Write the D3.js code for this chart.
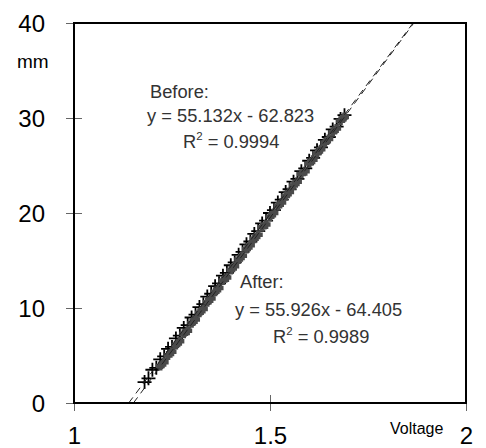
<!DOCTYPE html>
<html>
<head>
<meta charset="utf-8">
<script src="https://cdn.jsdelivr.net/npm/d3@7"></script>
<style>
  body { margin: 0; background: #fff; }
  svg { font-family: "Liberation Sans", Arial, sans-serif; }
</style>
</head>
<body>
<svg id="chart" width="486" height="448"></svg>
<script>
// data
const beforeVoltage = [1.18, 1.19, 1.20, 1.21, 1.22, 1.23, 1.24, 1.25, 1.26, 1.27, 1.28, 1.29, 1.30, 1.31, 1.32, 1.33, 1.34,
  1.35, 1.36, 1.37, 1.38, 1.39, 1.40, 1.41, 1.42, 1.43, 1.44, 1.45, 1.46, 1.47, 1.48, 1.49, 1.50, 1.51, 1.52,
  1.53, 1.54, 1.55, 1.56, 1.57, 1.58, 1.59, 1.60, 1.61, 1.62, 1.63, 1.64, 1.65, 1.66, 1.67, 1.68, 1.69];
const beforeMM = [2.2, 2.6, 3.5, 3.7, 4.6, 4.9, 5.7, 5.9, 6.8, 7.1, 7.9, 8.2, 9.0, 9.3, 10.1, 10.4, 11.2,
  11.5, 12.3, 12.6, 13.4, 13.7, 14.5, 14.8, 15.6, 15.9, 16.7, 17.0, 17.8, 18.1, 18.9, 19.2, 20.0, 20.3, 21.1,
  21.4, 22.2, 22.5, 23.3, 23.6, 24.4, 24.7, 25.5, 25.8, 26.6, 26.9, 27.7, 28.0, 28.8, 29.1, 29.9, 30.3];

const afterVoltage = [1.22, 1.23, 1.24, 1.25, 1.26, 1.27, 1.28, 1.29, 1.30, 1.31, 1.32, 1.33, 1.34, 1.35, 1.36,
  1.37, 1.38, 1.39, 1.40, 1.41, 1.42, 1.43, 1.44, 1.45, 1.46, 1.47, 1.48, 1.49, 1.50, 1.51, 1.52, 1.53, 1.54,
  1.55, 1.56, 1.57, 1.58, 1.59, 1.60, 1.61, 1.62, 1.63, 1.64, 1.65, 1.66, 1.67, 1.68, 1.69];
const afterMM = [3.9, 4.3, 5.0, 5.4, 6.1, 6.5, 7.3, 7.6, 8.4, 8.8, 9.5, 9.9, 10.6, 11.0, 11.7,
  12.1, 12.9, 13.2, 14.0, 14.4, 15.1, 15.5, 16.2, 16.6, 17.3, 17.7, 18.5, 18.8, 19.6, 20.0, 20.7, 21.1, 21.8,
  22.2, 22.9, 23.3, 24.1, 24.4, 25.2, 25.6, 26.3, 26.7, 27.4, 27.8, 28.5, 28.9, 29.7, 30.1];

// trendline coefficients [slope, intercept]
const fitBefore = [55.132, -62.823];
const fitAfter = [55.926, -64.405];

const xTicks = [1, 1.5, 2];
const yTicks = [0, 10, 20, 30, 40];
const xTickLabels = ["1", "1.5", "2"];

const beforeLabel = ["Before:", "y = 55.132x - 62.823", "0.9994"];
const afterLabel = ["After:", "y = 55.926x - 64.405", "0.9989"];

const svg = d3.select("#chart");
const plot = { left: 74, right: 466, top: 23, bottom: 403 };

const x = d3.scaleLinear().domain([1, 2]).range([plot.left, plot.right]);
const y = d3.scaleLinear().domain([0, 40]).range([plot.bottom, plot.top]);

svg.append("clipPath").attr("id", "plotclip")
  .append("rect").attr("x", plot.left).attr("y", plot.top)
  .attr("width", plot.right - plot.left).attr("height", plot.bottom - plot.top);

const line = d3.line().x(d => x(d[0])).y(d => y(d[1]));

function fitPoints(fit) {
  return [0, 40].map(mm => [(mm - fit[1]) / fit[0], mm]);
}

// markers
const plus = (s) => `M${-s},0H${s}M0,${-s}V${s}`;

svg.append("g").selectAll("path")
  .data(d3.zip(beforeVoltage, beforeMM))
  .join("path")
  .attr("transform", d => `translate(${x(d[0])},${y(d[1])})`)
  .attr("d", plus(7))
  .attr("stroke", "#000")
  .attr("stroke-width", 1.8)
  .attr("fill", "none");

svg.append("g").selectAll("path")
  .data(d3.zip(afterVoltage, afterMM))
  .join("path")
  .attr("transform", d => `translate(${x(d[0])},${y(d[1])})`)
  .attr("d", plus(4.5))
  .attr("stroke", "#4a4a4a")
  .attr("stroke-width", 4.5)
  .attr("fill", "none");

// dashed trendlines
[fitBefore, fitAfter].forEach(fit => {
  svg.append("path")
    .attr("clip-path", "url(#plotclip)")
    .attr("d", line(fitPoints(fit)))
    .attr("fill", "none")
    .attr("stroke", "#222")
    .attr("stroke-width", 1)
    .attr("stroke-dasharray", "7,5");
});

// axes with cross ticks
const yAxis = svg.append("g")
  .attr("transform", `translate(${plot.left},0)`)
  .call(d3.axisLeft(y).tickValues(yTicks).tickSizeOuter(0).tickSizeInner(8).tickPadding(21));
yAxis.select(".domain").remove();
yAxis.selectAll(".tick line").attr("x1", 8).attr("stroke", "#666");
yAxis.selectAll(".tick text")
  .attr("font-size", 24).attr("fill", "#000")
  .attr("font-family", "Liberation Sans, Arial, sans-serif")
  .attr("dy", "0.36em");

const xAxis = svg.append("g")
  .attr("transform", `translate(0,${plot.bottom})`)
  .call(d3.axisBottom(x).tickValues(xTicks).tickFormat((d, i) => xTickLabels[i])
    .tickSizeOuter(0).tickSizeInner(8).tickPadding(0));
xAxis.select(".domain").remove();
xAxis.selectAll(".tick line").attr("y1", -8).attr("stroke", "#666");
xAxis.selectAll(".tick text")
  .attr("font-size", 24).attr("fill", "#000")
  .attr("font-family", "Liberation Sans, Arial, sans-serif")
  .attr("dy", null).attr("y", 41);

// frame
svg.append("rect")
  .attr("x", plot.left).attr("y", plot.top)
  .attr("width", plot.right - plot.left).attr("height", plot.bottom - plot.top)
  .attr("fill", "none").attr("stroke", "#000").attr("stroke-width", 2);

// axis titles
svg.append("text").attr("x", 17).attr("y", 68).attr("font-size", 19).text("mm");
svg.append("text").attr("x", 390).attr("y", 434).attr("font-size", 16).text("Voltage");

// fit annotations
function annotate(lbl, x0, x1, x2, y0, y1, y2) {
  const g = svg.append("g").attr("fill", "#333").attr("font-size", 18.3);
  g.append("text").attr("x", x0).attr("y", y0).text(lbl[0]);
  g.append("text").attr("x", x1).attr("y", y1).text(lbl[1]);
  const r = g.append("text").attr("x", x2).attr("y", y2);
  r.append("tspan").text("R");
  r.append("tspan").attr("font-size", 11.5).attr("dy", -8).text("2");
  r.append("tspan").attr("dy", 8).text(" = " + lbl[2]);
}
annotate(beforeLabel, 150, 147, 183, 98, 122, 148);
annotate(afterLabel, 240, 235, 273, 288, 316, 343);
</script>
</body>
</html>
